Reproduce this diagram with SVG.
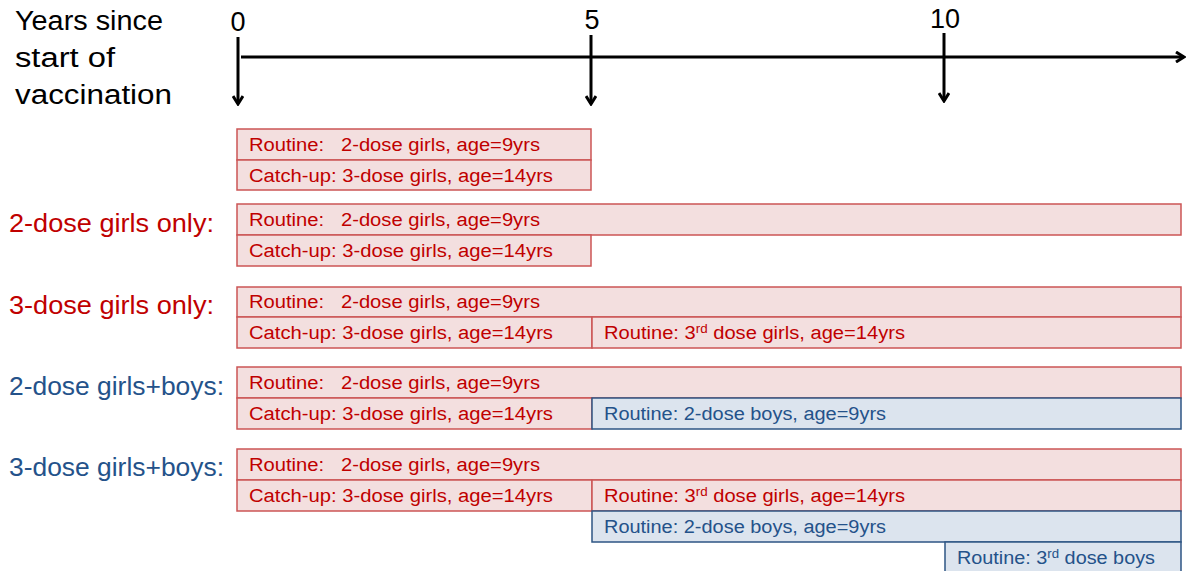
<svg xmlns="http://www.w3.org/2000/svg" width="1190" height="571" viewBox="0 0 1190 571">
<defs>
<style>
text{white-space:pre;}
.lbl{font-family:"Liberation Sans",Arial,sans-serif;}
.hdr{font-size:27px;fill:#000;}
.side{font-size:25px;}
.red{fill:#c00000;}
.blue{fill:#24528a;}
.pb{fill:#f3dfdf;stroke:#cc5555;stroke-width:1.5;}
.bb{fill:#dce4ee;stroke:#2e5584;stroke-width:1.5;}
.bt{font-family:"Liberation Sans",Arial,sans-serif;font-size:18px;}
.sup{font-size:12px;}
.ax{stroke:#000;stroke-width:3;fill:none;}
</style>
<marker id="ah" markerWidth="12" markerHeight="12" refX="10" refY="6" orient="auto" markerUnits="userSpaceOnUse">
<path d="M2,1 L10,6 L2,11" fill="none" stroke="#000" stroke-width="3"/>
</marker>
</defs>

<g id="title">
<text class="lbl hdr" x="15" y="30" textLength="148" lengthAdjust="spacingAndGlyphs">Years since</text>
<text class="lbl hdr" x="15" y="67" textLength="100" lengthAdjust="spacingAndGlyphs">start of</text>
<text class="lbl hdr" x="15" y="104" textLength="157" lengthAdjust="spacingAndGlyphs">vaccination</text>
</g>

<g id="axis-labels">
<text class="lbl hdr" x="238" y="31" text-anchor="middle">0</text>
<text class="lbl hdr" x="592" y="29" text-anchor="middle">5</text>
<text class="lbl hdr" x="945" y="28" text-anchor="middle">10</text>
</g>

<g id="connectors">
<line class="ax" x1="241" y1="57" x2="1184" y2="57" marker-end="url(#ah)"/>
<line class="ax" x1="238" y1="37" x2="238" y2="104" marker-end="url(#ah)"/>
<line class="ax" x1="591" y1="35" x2="591" y2="104" marker-end="url(#ah)"/>
<line class="ax" x1="944" y1="33" x2="944" y2="101" marker-end="url(#ah)"/>
</g>

<g id="side-labels">
<text class="lbl side red" x="9" y="232" textLength="205" lengthAdjust="spacingAndGlyphs">2-dose girls only:</text>
<text class="lbl side red" x="9" y="314" textLength="205" lengthAdjust="spacingAndGlyphs">3-dose girls only:</text>
<text class="lbl side blue" x="9" y="395" textLength="215" lengthAdjust="spacingAndGlyphs">2-dose girls+boys:</text>
<text class="lbl side blue" x="9" y="476" textLength="215" lengthAdjust="spacingAndGlyphs">3-dose girls+boys:</text>
</g>

<g id="rowA">
<rect class="pb" x="237" y="129" width="354" height="31"/>
<text class="bt red" x="249" y="151" textLength="291" lengthAdjust="spacingAndGlyphs">Routine:   2-dose girls, age=9yrs</text>
<rect class="pb" x="237" y="160" width="354" height="30"/>
<text class="bt red" x="249" y="182" textLength="304" lengthAdjust="spacingAndGlyphs">Catch-up: 3-dose girls, age=14yrs</text>
</g>

<g id="rowB">
<rect class="pb" x="237" y="204" width="944" height="31"/>
<text class="bt red" x="249" y="226" textLength="291" lengthAdjust="spacingAndGlyphs">Routine:   2-dose girls, age=9yrs</text>
<rect class="pb" x="237" y="235" width="354" height="31"/>
<text class="bt red" x="249" y="257" textLength="304" lengthAdjust="spacingAndGlyphs">Catch-up: 3-dose girls, age=14yrs</text>
</g>

<g id="rowC">
<rect class="pb" x="237" y="287" width="944" height="30"/>
<text class="bt red" x="249" y="308" textLength="291" lengthAdjust="spacingAndGlyphs">Routine:   2-dose girls, age=9yrs</text>
<rect class="pb" x="237" y="317" width="355" height="31"/>
<text class="bt red" x="249" y="339" textLength="304" lengthAdjust="spacingAndGlyphs">Catch-up: 3-dose girls, age=14yrs</text>
<rect class="pb" x="592" y="317" width="589" height="31"/>
<text class="bt red" x="604" y="339" textLength="301" lengthAdjust="spacingAndGlyphs">Routine: 3<tspan class="sup" dy="-6">rd</tspan><tspan dy="6"> dose girls, age=14yrs</tspan></text>
</g>

<g id="rowD">
<rect class="pb" x="237" y="367" width="944" height="31"/>
<text class="bt red" x="249" y="389" textLength="291" lengthAdjust="spacingAndGlyphs">Routine:   2-dose girls, age=9yrs</text>
<rect class="pb" x="237" y="398" width="355" height="31"/>
<text class="bt red" x="249" y="420" textLength="304" lengthAdjust="spacingAndGlyphs">Catch-up: 3-dose girls, age=14yrs</text>
<rect class="bb" x="592" y="398" width="589" height="31"/>
<text class="bt blue" x="604" y="420" textLength="282" lengthAdjust="spacingAndGlyphs">Routine: 2-dose boys, age=9yrs</text>
</g>

<g id="rowE">
<rect class="pb" x="237" y="449" width="944" height="31"/>
<text class="bt red" x="249" y="471" textLength="291" lengthAdjust="spacingAndGlyphs">Routine:   2-dose girls, age=9yrs</text>
<rect class="pb" x="237" y="480" width="355" height="31"/>
<text class="bt red" x="249" y="502" textLength="304" lengthAdjust="spacingAndGlyphs">Catch-up: 3-dose girls, age=14yrs</text>
<rect class="pb" x="592" y="480" width="589" height="31"/>
<text class="bt red" x="604" y="502" textLength="301" lengthAdjust="spacingAndGlyphs">Routine: 3<tspan class="sup" dy="-6">rd</tspan><tspan dy="6"> dose girls, age=14yrs</tspan></text>
<rect class="bb" x="592" y="511" width="589" height="31"/>
<text class="bt blue" x="604" y="533" textLength="282" lengthAdjust="spacingAndGlyphs">Routine: 2-dose boys, age=9yrs</text>
<rect class="bb" x="945" y="542" width="236" height="31"/>
<text class="bt blue" x="957" y="564" textLength="198" lengthAdjust="spacingAndGlyphs">Routine: 3<tspan class="sup" dy="-6">rd</tspan><tspan dy="6"> dose boys</tspan></text>
</g>
</svg>
